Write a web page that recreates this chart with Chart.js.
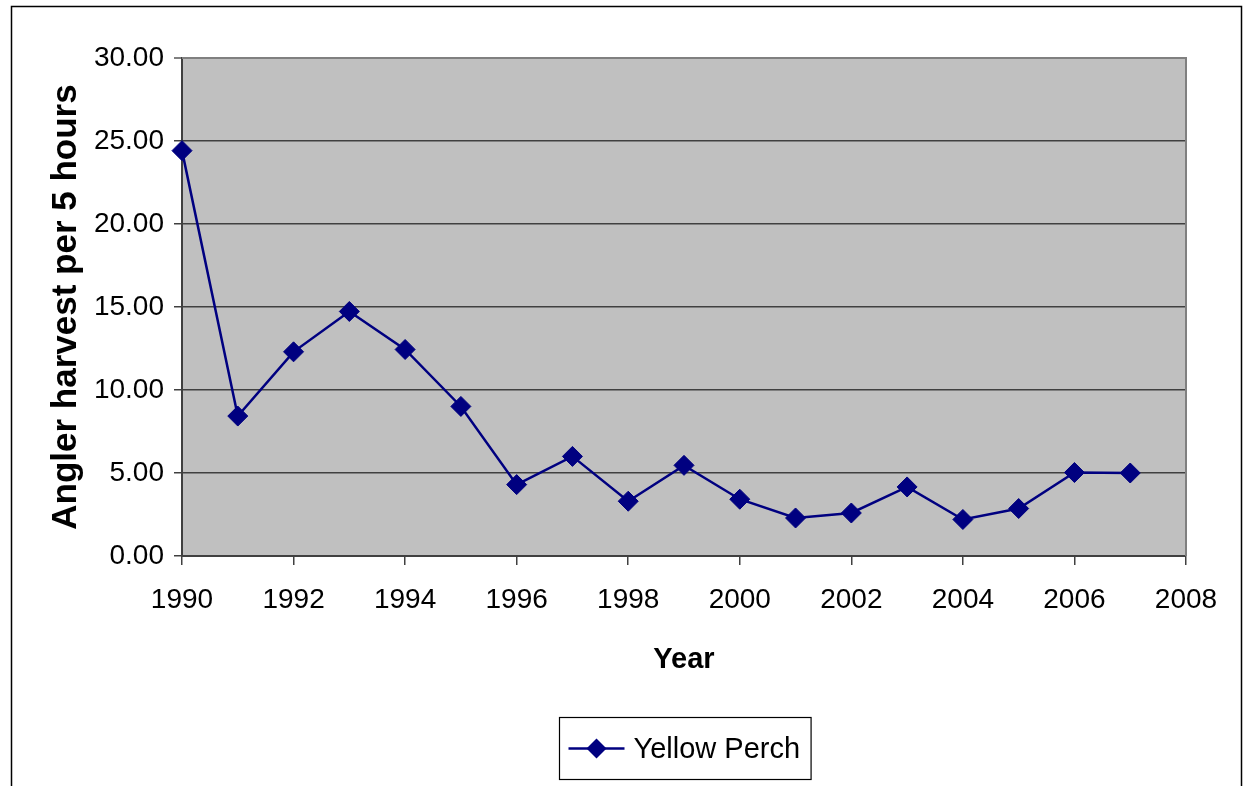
<!DOCTYPE html>
<html>
<head>
<meta charset="utf-8">
<script src="https://cdn.jsdelivr.net/npm/chart.js@4"></script>
<style>
  html, body { margin: 0; padding: 0; background: #fff; }
  #wrap { width: 1247px; height: 786px; }
</style>
</head>
<body>
<div id="wrap"><canvas id="chart" width="1247" height="786"></canvas></div>
<script>
const years = [1990, 1991, 1992, 1993, 1994, 1995, 1996, 1997, 1998, 1999, 2000, 2001, 2002, 2003, 2004, 2005, 2006, 2007];
const perch = [24.42, 8.43, 12.30, 14.73, 12.44, 9.01, 4.30, 6.00, 3.30, 5.46, 3.42, 2.29, 2.59, 4.16, 2.20, 2.86, 5.03, 5.00];
const seriesName = 'Yellow Perch';
const xTitle = 'Year';
const yTitle = 'Angler harvest per 5 hours';

const FONT = "'Liberation Sans', Arial, sans-serif";
const NAVY = '#000080';

// plot background, plot border, outer frame and the boxed legend
const excelLook = {
  id: 'excelLook',
  beforeDraw(chart) {
    const { ctx, chartArea: a } = chart;
    ctx.save();
    ctx.fillStyle = '#c0c0c0';
    ctx.fillRect(a.left, a.top, a.right - a.left, a.bottom - a.top);
    ctx.restore();
  },
  afterDraw(chart) {
    const { ctx, chartArea: a } = chart;
    ctx.save();
    // top + right border of plot
    ctx.strokeStyle = '#808080';
    ctx.lineWidth = 2;
    ctx.beginPath();
    ctx.moveTo(a.left, a.top);
    ctx.lineTo(a.right, a.top);
    ctx.lineTo(a.right, a.bottom);
    ctx.stroke();

    // outer chart frame (bottom edge falls off the page)
    ctx.strokeStyle = '#000';
    ctx.lineWidth = 1.5;
    ctx.strokeRect(11.5, 6.5, 1230, 900);

    // legend
    const ds = chart.data.datasets[0];
    ctx.font = '29px ' + FONT;
    const tw = ctx.measureText(ds.label).width;
    const cx = (a.left + a.right) / 2 + 1;
    const symW = 56, gap = 9, padX = 9;
    const boxW = padX + symW + gap + tw + padX + 2;
    const bx = Math.round(cx - boxW / 2) + 0.5, by = 717.5, bh = 62;
    ctx.fillStyle = '#fff';
    ctx.fillRect(bx, by, boxW, bh);
    ctx.strokeStyle = '#000';
    ctx.lineWidth = 1.2;
    ctx.strokeRect(bx, by, boxW, bh);
    const my = by + bh / 2;
    const sx = bx + padX;
    ctx.strokeStyle = ds.borderColor;
    ctx.lineWidth = ds.borderWidth;
    ctx.beginPath();
    ctx.moveTo(sx, my);
    ctx.lineTo(sx + symW, my);
    ctx.stroke();
    ctx.fillStyle = ds.pointBackgroundColor;
    const r = ds.pointRadius;
    const mx = sx + symW / 2;
    ctx.beginPath();
    ctx.moveTo(mx, my - r);
    ctx.lineTo(mx + r, my);
    ctx.lineTo(mx, my + r);
    ctx.lineTo(mx - r, my);
    ctx.closePath();
    ctx.fill();
    ctx.fillStyle = '#000';
    ctx.textBaseline = 'middle';
    ctx.textAlign = 'left';
    ctx.fillText(ds.label, sx + symW + gap, my + 1);
    ctx.restore();
  }
};

new Chart(document.getElementById('chart'), {
  type: 'line',
  data: {
    datasets: [{
      label: seriesName,
      data: years.map((y, i) => ({ x: y, y: perch[i] })),
      borderColor: NAVY,
      borderWidth: 2.5,
      pointStyle: 'rectRot',
      pointRadius: 10,
      pointBackgroundColor: NAVY,
      pointBorderColor: NAVY,
      pointBorderWidth: 1,
      tension: 0,
      clip: false
    }]
  },
  options: {
    responsive: false,
    animation: false,
    events: [],
    layout: { padding: { top: 58, left: 12, right: 61, bottom: 0 } },
    plugins: {
      legend: { display: false },
      tooltip: { enabled: false }
    },
    scales: {
      x: {
        type: 'linear',
        min: 1990,
        max: 2008,
        afterFit: s => { s.height = 230; },
        ticks: {
          stepSize: 2,
          padding: 18,
          color: '#000',
          font: { family: FONT, size: 28 },
          callback: v => String(v),
          maxRotation: 0
        },
        grid: {
          display: true,
          drawOnChartArea: false,
          drawTicks: true,
          tickLength: 9,
          color: '#404040',
          lineWidth: 1.5
        },
        border: { display: true, color: '#404040', width: 2 },
        title: {
          display: true,
          text: xTitle,
          color: '#000',
          font: { family: FONT, size: 29, weight: 'bold' },
          padding: { top: 0, bottom: 109 }
        }
      },
      y: {
        min: 0,
        max: 30,
        afterFit: s => { s.width = 170; },
        ticks: {
          stepSize: 5,
          padding: 10,
          color: '#000',
          font: { family: FONT, size: 28 },
          callback: v => Number(v).toFixed(2)
        },
        grid: {
          color: c => (c.tick && c.tick.value === 30) ? '#808080' : '#404040',
          lineWidth: c => (c.tick && c.tick.value === 30) ? 2 : 1.5,
          tickLength: 8,
          drawTicks: true
        },
        border: { display: true, color: '#404040', width: 2 },
        title: {
          display: true,
          text: yTitle,
          color: '#000',
          font: { family: FONT, size: 35, weight: 'bold' },
          padding: { top: 33, bottom: 0 }
        }
      }
    }
  },
  plugins: [excelLook]
});
</script>
</body>
</html>
